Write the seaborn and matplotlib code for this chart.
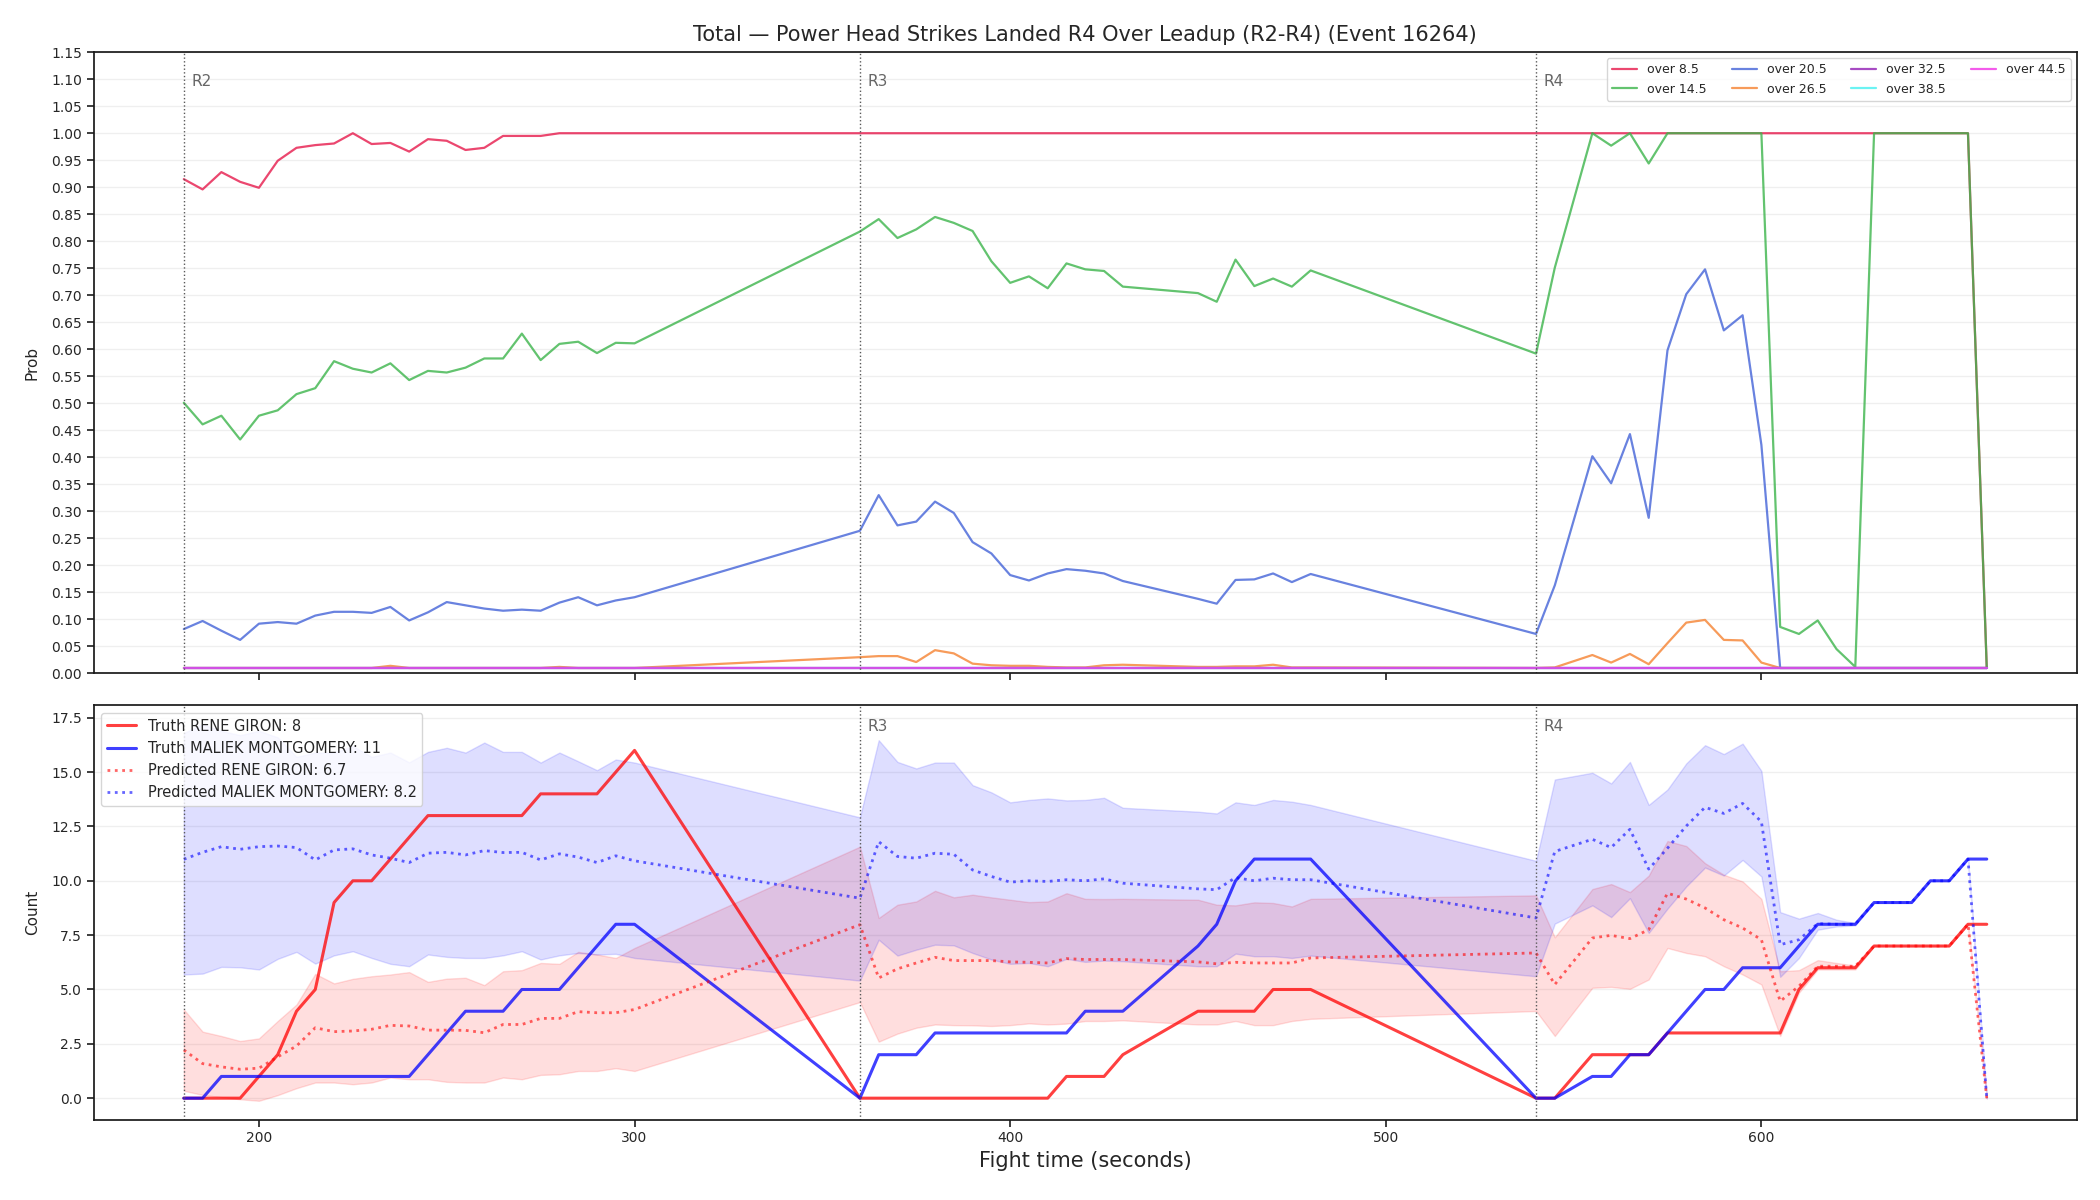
import numpy as np
import pandas as pd
import matplotlib
matplotlib.use("Agg")
import matplotlib.pyplot as plt
import seaborn as sns

# fight time (s): R2 180-300, R3 360-480, R4 540-660 (a few samples missing)
times = [180, 185, 190, 195, 200, 205, 210, 215, 220, 225, 230, 235, 240, 245, 250,
         255, 260, 265, 270, 275, 280, 285, 290, 295, 300,
         360, 365, 370, 375, 380, 385, 390, 395, 400, 405, 410, 415, 420, 425, 430,
         450, 455, 460, 465, 470, 475, 480,
         540, 545, 555, 560, 565, 570, 575, 580, 585, 590, 595, 600, 605, 610, 615,
         620, 625, 630, 635, 640, 645, 650, 655, 660]

rounds = [180, 360, 540]
round_labels = ["R2", "R3", "R4"]

# --- top panel: probability of going over each line ---
lines = ["over 8.5", "over 14.5", "over 20.5", "over 26.5", "over 32.5", "over 38.5", "over 44.5"]
line_colors = ["#e6194b", "#3cb44b", "#4363d8", "#f58231", "#911eb4", "#46f0f0", "#f032e6"]

over_8_5 = [0.915, 0.896, 0.928, 0.910, 0.899, 0.949, 0.973, 0.978, 0.981, 1.0, 0.980, 0.982, 0.966,
            0.989, 0.986, 0.969, 0.973, 0.995, 0.995, 0.995, 1.0, 1.0, 1.0, 1.0, 1.0,
            1.0, 1.0, 1.0, 1.0, 1.0, 1.0, 1.0, 1.0, 1.0, 1.0, 1.0, 1.0, 1.0, 1.0, 1.0,
            1.0, 1.0, 1.0, 1.0, 1.0, 1.0, 1.0,
            1.0, 1.0, 1.0, 1.0, 1.0, 1.0, 1.0, 1.0, 1.0, 1.0, 1.0, 1.0, 1.0, 1.0, 1.0,
            1.0, 1.0, 1.0, 1.0, 1.0, 1.0, 1.0, 1.0, 0.01]
over_14_5 = [0.501, 0.461, 0.477, 0.433, 0.477, 0.487, 0.517, 0.528, 0.578, 0.564, 0.557, 0.574, 0.543,
             0.560, 0.557, 0.566, 0.583, 0.583, 0.629, 0.580, 0.610, 0.614, 0.593, 0.612, 0.611,
             0.818, 0.841, 0.806, 0.822, 0.845, 0.834, 0.819, 0.763, 0.723, 0.735, 0.713, 0.759, 0.748,
             0.745, 0.716,
             0.704, 0.688, 0.766, 0.717, 0.731, 0.716, 0.746,
             0.592, 0.751, 1.0, 0.977, 1.0, 0.944, 1.0, 1.0, 1.0, 1.0, 1.0, 1.0, 0.086, 0.073, 0.098,
             0.045, 0.012, 1.0, 1.0, 1.0, 1.0, 1.0, 1.0, 0.01]
over_20_5 = [0.082, 0.097, 0.079, 0.062, 0.092, 0.095, 0.092, 0.107, 0.114, 0.114, 0.112, 0.123, 0.098,
             0.113, 0.132, 0.126, 0.120, 0.116, 0.118, 0.116, 0.131, 0.141, 0.126, 0.135, 0.141,
             0.264, 0.330, 0.274, 0.281, 0.318, 0.297, 0.243, 0.222, 0.182, 0.172, 0.185, 0.193, 0.190,
             0.185, 0.171,
             0.138, 0.129, 0.173, 0.174, 0.185, 0.169, 0.184,
             0.073, 0.163, 0.402, 0.352, 0.443, 0.288, 0.598, 0.702, 0.748, 0.635, 0.663, 0.423, 0.01,
             0.01, 0.01, 0.01, 0.01, 0.01, 0.01, 0.01, 0.01, 0.01, 0.01, 0.01]
over_26_5 = [0.01, 0.01, 0.01, 0.01, 0.01, 0.01, 0.01, 0.01, 0.01, 0.01, 0.01, 0.014, 0.01,
             0.01, 0.01, 0.01, 0.01, 0.01, 0.01, 0.01, 0.012, 0.01, 0.01, 0.01, 0.01,
             0.030, 0.032, 0.032, 0.021, 0.043, 0.037, 0.018, 0.015, 0.014, 0.014, 0.012, 0.011, 0.011,
             0.015, 0.016,
             0.012, 0.012, 0.013, 0.013, 0.016, 0.011, 0.011,
             0.01, 0.011, 0.034, 0.020, 0.036, 0.017, 0.056, 0.094, 0.099, 0.062, 0.061, 0.020, 0.01,
             0.01, 0.01, 0.01, 0.01, 0.01, 0.01, 0.01, 0.01, 0.01, 0.01, 0.01]
over_32_5 = [0.01] * len(times)
over_38_5 = [0.01] * len(times)
over_44_5 = [0.01] * len(times)

# --- bottom panel: counts ---
fighters = ["RENE GIRON", "MALIEK MONTGOMERY"]
truth_final = ["8", "11"]
pred_final = ["6.7", "8.2"]

truth_giron = [0, 0, 0, 0, 1, 2, 4, 5, 9, 10, 10, 11, 12, 13, 13, 13, 13, 13, 13, 14, 14, 14, 14, 15, 16,
               0, 0, 0, 0, 0, 0, 0, 0, 0, 0, 0, 1, 1, 1, 2,
               4, 4, 4, 4, 5, 5, 5,
               0, 0, 2, 2, 2, 2, 3, 3, 3, 3, 3, 3, 3, 5, 6, 6, 6, 7, 7, 7, 7, 7, 8, 8]
truth_montgomery = [0, 0, 1, 1, 1, 1, 1, 1, 1, 1, 1, 1, 1, 2, 3, 4, 4, 4, 5, 5, 5, 6, 7, 8, 8,
                    0, 2, 2, 2, 3, 3, 3, 3, 3, 3, 3, 3, 4, 4, 4,
                    7, 8, 10, 11, 11, 11, 11,
                    0, 0, 1, 1, 2, 2, 3, 4, 5, 5, 6, 6, 6, 7, 8, 8, 8, 9, 9, 9, 10, 10, 11, 11]

pred_giron = [2.22, 1.59, 1.44, 1.33, 1.38, 1.90, 2.40, 3.24, 3.06, 3.09, 3.17, 3.35, 3.32, 3.13, 3.13,
              3.12, 3.01, 3.39, 3.39, 3.67, 3.67, 3.98, 3.93, 3.93, 4.08,
              7.98, 5.53, 5.95, 6.22, 6.48, 6.33, 6.33, 6.33, 6.27, 6.25, 6.22, 6.42, 6.38, 6.38, 6.38,
              6.27, 6.18, 6.25, 6.22, 6.22, 6.22, 6.45,
              6.68, 5.23, 7.37, 7.49, 7.34, 7.75, 9.43, 9.16, 8.75, 8.21, 7.83, 7.29, 4.46, 5.15, 6.07,
              6.07, 6.07, 7.0, 7.0, 7.0, 7.0, 7.0, 8.0, 0.0]
pred_montgomery = [10.99, 11.31, 11.57, 11.45, 11.57, 11.60, 11.53, 10.96, 11.42, 11.47, 11.19, 11.04,
                   10.84, 11.27, 11.31, 11.19, 11.39, 11.30, 11.31, 10.96, 11.24, 11.09, 10.84, 11.15, 10.92,
                   9.20, 11.80, 11.12, 11.04, 11.27, 11.22, 10.50, 10.20, 9.94, 10.0, 9.97, 10.05, 10.0,
                   10.09, 9.89,
                   9.63, 9.59, 10.15, 10.0, 10.12, 10.05, 10.05,
                   8.29, 11.35, 11.91, 11.53, 12.37, 10.54, 11.50, 12.52, 13.38, 13.10, 13.56, 12.72, 7.06,
                   7.29, 8.03, 8.0, 8.0, 9.0, 9.0, 9.0, 10.0, 10.0, 11.0, 0.0]

giron_lo = [0.34, 0.15, 0.05, -0.05, -0.12, 0.14, 0.46, 0.72, 0.72, 0.64, 0.72, 0.95, 0.87, 0.87, 0.75,
            0.72, 0.72, 0.95, 0.87, 1.07, 1.10, 1.25, 1.25, 1.38, 1.25,
            4.42, 2.60, 2.97, 3.24, 3.39, 3.36, 3.35, 3.32, 3.36, 3.44, 3.39, 3.43, 3.55, 3.55, 3.58,
            3.39, 3.39, 3.55, 3.36, 3.36, 3.55, 3.65,
            4.01, 2.86, 5.08, 5.12, 5.03, 5.46, 6.91, 6.68, 6.53, 6.07, 5.69, 5.23, 2.86, 4.85, 5.92,
            5.92, 5.92, 7.0, 7.0, 7.0, 7.0, 7.0, 8.0, 0.0]
giron_hi = [4.08, 3.06, 2.86, 2.63, 2.75, 3.55, 4.31, 5.72, 5.28, 5.49, 5.61, 5.69, 5.80, 5.35, 5.50,
            5.54, 5.20, 5.84, 5.89, 6.22, 6.18, 6.73, 6.61, 6.45, 6.91,
            11.57, 8.29, 8.90, 9.05, 9.54, 9.24, 9.36, 9.24, 9.13, 9.02, 9.05, 9.43, 9.17, 9.16, 9.17,
            9.13, 8.90, 8.87, 9.01, 8.98, 8.82, 9.17,
            9.33, 7.40, 9.62, 9.85, 9.48, 10.24, 11.83, 11.60, 10.81, 10.28, 9.97, 9.17, 5.84, 5.89,
            6.35, 6.22, 6.10, 7.0, 7.0, 7.0, 7.0, 7.0, 8.0, 0.0]
montgomery_lo = [5.69, 5.73, 6.04, 6.02, 5.92, 6.41, 6.73, 6.19, 6.57, 6.76, 6.45, 6.18, 6.07, 6.61,
                 6.50, 6.45, 6.45, 6.57, 6.76, 6.38, 6.57, 6.68, 6.61, 6.64, 6.45,
                 5.41, 7.29, 6.56, 6.83, 7.06, 7.03, 6.68, 6.38, 6.18, 6.22, 6.07, 6.41, 6.27, 6.33, 6.30,
                 6.07, 6.07, 6.65, 6.53, 6.53, 6.45, 6.56,
                 5.61, 8.03, 8.87, 8.33, 9.20, 7.60, 8.72, 9.74, 10.61, 10.24, 10.96, 10.20, 5.58, 6.45,
                 7.75, 7.90, 7.95, 9.0, 9.0, 9.0, 10.0, 10.0, 11.0, 0.0]
montgomery_hi = [16.8, 17.2, 16.9, 16.7, 16.9, 16.6, 15.7, 15.9, 15.9, 16.2, 15.7, 15.9, 15.45, 15.93,
                 16.12, 15.90, 16.36, 15.93, 15.93, 15.44, 15.90, 15.50, 15.09, 15.58, 15.44,
                 12.92, 16.47, 15.47, 15.17, 15.44, 15.44, 14.40, 14.07, 13.61, 13.72, 13.79, 13.70,
                 13.72, 13.82, 13.36,
                 13.18, 13.10, 13.61, 13.49, 13.72, 13.64, 13.49,
                 10.92, 14.66, 14.97, 14.48, 15.47, 13.49, 14.20, 15.40, 16.24, 15.83, 16.31, 15.06,
                 8.56, 8.26, 8.52, 8.21, 8.06, 9.0, 9.0, 9.0, 10.0, 10.0, 11.0, 0.0]

# -- plot --
sns.set_theme(style="ticks")
plt.rcParams["font.family"] = ["DejaVu Sans"]
plt.rcParams["xtick.labelsize"] = 10
plt.rcParams["ytick.labelsize"] = 10
plt.rcParams["xtick.major.size"] = 5
plt.rcParams["ytick.major.size"] = 5
plt.rcParams["axes.edgecolor"] = "#1a1a1a"

fig, (ax1, ax2) = plt.subplots(2, 1, figsize=(21, 12), dpi=100, sharex=True,
                               gridspec_kw={"height_ratios": [3, 2]})
fig.subplots_adjust(left=0.0446, right=0.989, top=0.9565, bottom=0.067, hspace=0.062)

probs = pd.DataFrame({"t": times, "over 8.5": over_8_5, "over 14.5": over_14_5,
                      "over 20.5": over_20_5, "over 26.5": over_26_5, "over 32.5": over_32_5,
                      "over 38.5": over_38_5, "over 44.5": over_44_5})
probs_long = probs.melt(id_vars="t", var_name="line", value_name="prob")

sns.lineplot(data=probs_long, x="t", y="prob", hue="line", hue_order=lines,
             palette=dict(zip(lines, line_colors)), linewidth=1.6, alpha=0.8,
             estimator=None, sort=False, ax=ax1)
ax1.set_ylim(0, 1.15)
ax1.set_yticks(np.round(np.arange(0, 1.151, 0.05), 2))
ax1.set_ylabel("Prob", fontsize=11, labelpad=8)
ax1.set_xlabel("")
ax1.grid(axis="y", alpha=0.3)
ax1.grid(axis="x", visible=False)
ax1.legend(loc="upper right", ncol=4, fontsize=9)
ax1.set_title("Total \u2014 Power Head Strikes Landed R4 Over Leadup (R2-R4) (Event 16264)",
              fontsize=15, pad=8)

# bands
ax2.fill_between(times, giron_lo, giron_hi, color="red", alpha=0.13)
ax2.fill_between(times, montgomery_lo, montgomery_hi, color="blue", alpha=0.13)

sns.lineplot(x=times, y=truth_giron, color="red", alpha=0.75, linewidth=2.2,
             label=f"Truth {fighters[0]}: {truth_final[0]}", ax=ax2)
sns.lineplot(x=times, y=truth_montgomery, color="blue", alpha=0.75, linewidth=2.2,
             label=f"Truth {fighters[1]}: {truth_final[1]}", ax=ax2)
sns.lineplot(x=times, y=pred_giron, color="red", alpha=0.6, linewidth=2, linestyle=":",
             label=f"Predicted {fighters[0]}: {pred_final[0]}", ax=ax2)
sns.lineplot(x=times, y=pred_montgomery, color="blue", alpha=0.6, linewidth=2, linestyle=":",
             label=f"Predicted {fighters[1]}: {pred_final[1]}", ax=ax2)
ax2.set_ylabel("Count", fontsize=11, labelpad=8)
ax2.set_xlabel("Fight time (seconds)", fontsize=15)
ax2.grid(axis="y", alpha=0.3)
ax2.grid(axis="x", visible=False)
ax2.legend(loc="upper left", fontsize=10.5)

# round markers (R2 label in the lower panel sits under the legend, so skip it)
for ax in (ax1, ax2):
    ymax = ax.get_ylim()[1]
    for r, lab in zip(rounds, round_labels):
        ax.axvline(r, color="0.35", linestyle=":", linewidth=1)
        if ax is ax2 and lab == "R2":
            continue
        ax.text(r + 2, ymax * 0.965, lab, color="0.4", fontsize=11, va="top", ha="left")

plt.savefig("out.png", dpi=100)
